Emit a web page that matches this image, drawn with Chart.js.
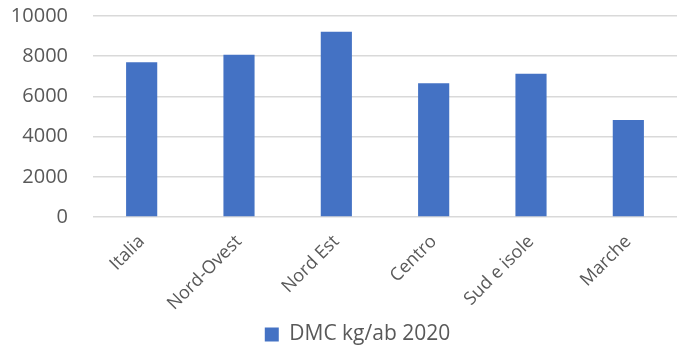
<!DOCTYPE html>
<html>
<head>
<meta charset="utf-8">
<script src="https://cdn.jsdelivr.net/npm/chart.js@4/dist/chart.umd.min.js"></script>
<style>
  html, body { margin: 0; padding: 0; background: #ffffff; }
  #wrap { width: 677px; height: 346px; position: relative; }
</style>
</head>
<body>
<div id="wrap"><canvas id="c"></canvas></div>
<script>
// Domestic material consumption per inhabitant, 2020
const categories = ["Italia", "Nord-Ovest", "Nord Est", "Centro", "Sud e isole", "Marche"];
const dmcValues = [7700, 8070, 9220, 6650, 7130, 4830];
const seriesLabel = "DMC kg/ab 2020";
const yTicks = [0, 2000, 4000, 6000, 8000, 10000];

const textColor = "#595959";
const fontFamily = "'Open Sans', 'Liberation Sans', sans-serif";

// Centre the legend under the plot area rather than under the whole canvas
const legendOffset = {
  id: "legendOffset",
  afterLayout(chart) {
    const shift = 17;
    chart.legend.left += shift;
    chart.legend.right += shift;
  }
};

new Chart(document.getElementById("c"), {
  type: "bar",
  data: {
    labels: categories,
    datasets: [{
      label: seriesLabel,
      data: dmcValues,
      backgroundColor: "#4472c4",
      borderWidth: 0,
      barPercentage: 1,
      categoryPercentage: 0.32
    }]
  },
  plugins: [legendOffset],
  options: {
    responsive: true,
    maintainAspectRatio: false,
    animation: false,
    layout: { padding: { left: 4, right: 0, top: 0, bottom: 0 } },
    plugins: {
      tooltip: { enabled: false },
      legend: {
        position: "bottom",
        maxHeight: 27,
        labels: {
          color: textColor,
          font: { family: fontFamily, size: 21 },
          boxWidth: 14,
          boxHeight: 14,
          padding: 5
        }
      }
    },
    scales: {
      x: {
        grid: { display: false },
        border: { display: false },
        afterFit: (scale) => { scale.height = 102; },
        ticks: {
          color: textColor,
          font: { family: fontFamily, size: 18 },
          maxRotation: 45,
          minRotation: 45,
          padding: 6
        }
      },
      y: {
        min: 0,
        max: 10000,
        afterBuildTicks: (axis) => { axis.ticks = yTicks.map(v => ({ value: v })); },
        afterFit: (scale) => { scale.width = 89; },
        grid: { color: "#d9d9d9", lineWidth: 1.5, drawTicks: true, tickLength: 21, tickColor: "rgba(0,0,0,0)" },
        border: { display: false },
        ticks: {
          color: textColor,
          font: { family: fontFamily, size: 20 },
          padding: 4,
          callback: (v) => String(v)
        }
      }
    }
  }
});
</script>
</body>
</html>
